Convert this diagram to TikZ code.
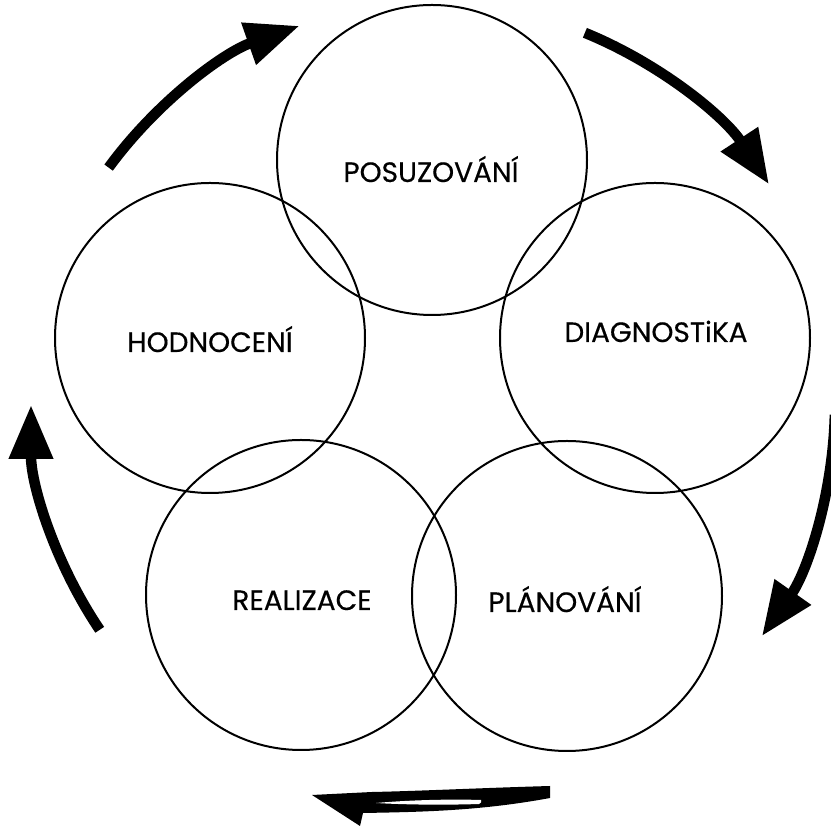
\documentclass[tikz,border=0pt]{standalone}
\usepackage{fontspec}
\setmainfont{Poppins}[FakeBold=0.4]
\usetikzlibrary{arrows.meta}
\begin{document}
\begin{tikzpicture}[x=1pt,y=1pt,
  ring/.style={draw, circle, line width=2pt, minimum size=310pt, inner sep=0pt},
  lbl/.style={anchor=base, font=\fontsize{28}{32}\selectfont, inner sep=0pt},
  cyc/.style={line width=10.5pt, -{Triangle[length=54pt,width=42pt]}}]
\useasboundingbox (0,0) rectangle (831,827);
\fill[white] (0,0) rectangle (831,827);
% circles
\node[ring] (cP) at (432,667) {};
\node[ring] (cD) at (655,489) {};
\node[ring] (cH) at (210,489) {};
\node[ring] (cR) at (301,232) {};
\node[ring] (cL) at (567,231) {};
% labels
\node[lbl] (tP) at (431,645) {POSUZOVÁNÍ};
\node[lbl] (tD) at (656,485) {DIAGNOSTiKA};
\node[lbl] (tH) at (210,475) {HODNOCENÍ};
\node[lbl] (tR) at (302,217) {REALIZACE};
\node[lbl] (tL) at (565,215) {PLÁNOVÁNÍ};
% cycle arrows
\coordinate (C) at (433,422);
\draw[cyc] (C) ++(143.8:402) arc[start angle=143.8, end angle=109.4, radius=402];
\draw[cyc] (C) ++(67.8:402) arc[start angle=67.8, end angle=33.3, radius=402];
\draw[cyc] (C) ++(-1.4:402) arc[start angle=-1.4, end angle=-35.1, radius=402];
\draw[cyc] (C) ++(-146:402) arc[start angle=-146, end angle=-180, radius=402];
% bottom arrow (half head, split shaft)
\fill[black] (550,41) .. controls (480,39) and (420,36) .. (372,35)
  -- (312,32) -- (360,1) -- (363,14)
  .. controls (420,15) and (480,16) .. (550,29) -- cycle;
\fill[white] (376,24) .. controls (410,27) and (450,28) .. (481,27)
  .. controls (482,25) and (481,24) .. (479,23)
  .. controls (450,22) and (410,22) .. (376,24) -- cycle;
\end{tikzpicture}
\end{document}
